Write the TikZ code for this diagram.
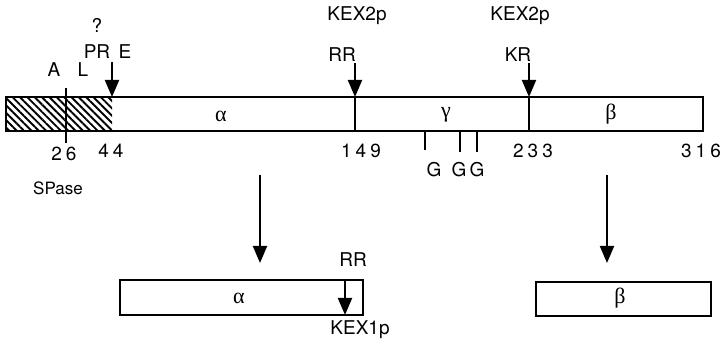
\documentclass[tikz,border=0pt]{standalone}
\usepackage{fontspec}
\setmainfont{TeX Gyre Heros}
\newfontfamily\greekfont{Liberation Serif}
\usetikzlibrary{arrows.meta,patterns.meta}
\newcommand{\gp}{\hspace{4pt}}

\begin{document}
\begin{tikzpicture}
    [x=1pt,y=-1pt,
     lbl/.style={font=\fontsize{19}{21}\selectfont,inner sep=0pt},
     grk/.style={font=\greekfont\fontsize{22}{24}\selectfont,inner sep=0pt},
     bar/.style={line width=2.2pt},
     tick/.style={line width=1.9pt},
     cut/.style={line width=2pt,-{Triangle[length=17pt,width=14pt]}}]
    \useasboundingbox (0,0) rectangle (724,342);

    % Precursor
    \fill [pattern={Lines[angle=-45,distance=5.2pt,line width=1.9pt]}] (6,97) rectangle (112,131);
    \draw [bar] (6,97) rectangle (703,131);
    \draw [bar] (66,88) -- (66,143);
    \draw [bar] (355,97) -- (355,131);
    \draw [bar] (529,97) -- (529,131);
    \draw [tick] (425,131) -- (425,150);
    \draw [tick] (460,131) -- (460,152);
    \draw [tick] (477,131) -- (477,152);

    \coordinate (s44) at (112,97);
    \coordinate (s149) at (355,97);
    \coordinate (s233) at (529,97);
    \coordinate (t44) at (112,62);
    \coordinate (t149) at (355,63);
    \coordinate (t233) at (529,63);
    \draw [cut] (t44) -- (s44);
    \draw [cut] (t149) -- (s149);
    \draw [cut] (t233) -- (s233);

    \node (q) at (97,25) [lbl] {?};
    \node (pr) at (97,52) [lbl] {PR};
    \node (e) at (125,52) [lbl] {E};
    \node (a) at (54,70) [lbl] {A};
    \node (l) at (83,70) [lbl] {L};
    \node (k2a) at (357,16) [lbl] {KEX2p};
    \node (rr) at (342,55) [lbl] {RR};
    \node (k2b) at (520,16) [lbl] {KEX2p};
    \node (kr) at (518,55) [lbl] {KR};

    \node (alpha) at (221,116) [grk] {α};
    \node (gamma) at (446,115) [grk] {γ};
    \node (beta) at (611,114) [grk] {β};

    \node (n26) at (64,154) [lbl] {2\gp6};
    \node (n44) at (111,151) [lbl] {4\gp4};
    \node (n149) at (361,151) [lbl] {1\gp4\gp9};
    \node (n233) at (533,151) [lbl] {2\gp3\gp3};
    \node (n316) at (701,151) [lbl] {3\gp1\gp6};
    \node (g1) at (434,170) [lbl] {G};
    \node (g2) at (459,170) [lbl] {G};
    \node (g3) at (477,170) [lbl] {G};
    \node (spase) at (58,188) [lbl,font=\fontsize{17}{19}\selectfont] {SPase};

    % Products
    \coordinate (da) at (260,175);
    \coordinate (db) at (607,175);
    \coordinate (ea) at (260,263);
    \coordinate (eb) at (607,263);
    \draw [cut] (da) -- (ea);
    \draw [cut] (db) -- (eb);

    \draw [bar] (120,280) rectangle (363,315);
    \draw [bar] (536,282) rectangle (711,316);
    \node (alpha2) at (239,298) [grk] {α};
    \node (beta2) at (620,298) [grk] {β};
    \coordinate (k1t) at (345,280);
    \coordinate (k1s) at (345,315);
    \draw [cut] (k1t) -- (k1s);
    \node (rr2) at (353,260) [lbl] {RR};
    \node (k1) at (360,330) [lbl] {KEX1p};
\end{tikzpicture}
\end{document}
